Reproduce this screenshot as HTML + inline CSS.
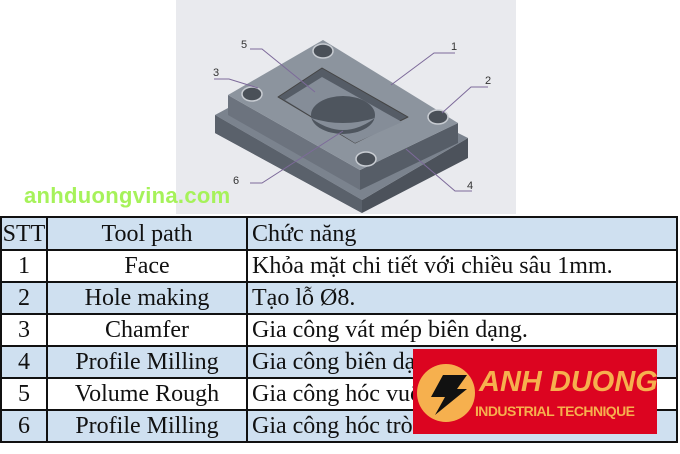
<!DOCTYPE html>
<html><head><meta charset="utf-8"><style>
body{margin:0;width:680px;height:454px;background:#fff;position:relative;overflow:hidden;font-family:"Liberation Serif",serif}
.img{position:absolute;left:176px;top:0;width:340px;height:214px;background:#e9eaee}
table{position:absolute;left:0px;top:216px;border-collapse:collapse;width:678px}
td{border:2px solid #111;height:30px;padding:0 4px;font-size:24px;color:#111;line-height:30px;white-space:nowrap;overflow:hidden}
tr.h td{height:31px}
td.c{text-align:center}
tr.b td{background:#cfe0f0}
.wm{position:absolute;left:24px;top:183px;font:bold 22px "Liberation Sans",sans-serif;color:#a6f25a;letter-spacing:0.3px}
.logo{position:absolute;left:413px;top:349px;width:244px;height:85px;background:#dc0420}
</style></head><body>
<div class="img"><svg width="340" height="214" viewBox="176 0 340 214">
<polygon points="215,115 362,200 468,138 468,158 362,213 215,133" fill="#4c525b"/>
<polygon points="215,115 362,200 362,213 215,133" fill="#5a616b"/>
<polygon points="215,115 228,108 360,183 458,133 468,138 362,200" fill="#7b838e"/>
<polygon points="228,95 360,170 360,190 228,115" fill="#6c737e"/>
<polygon points="360,170 458,123 458,143 360,190" fill="#565d67"/>
<polygon points="323,40 458,123 360,170 228,95" fill="#8c949e"/>
<polygon points="322,68 408,117 355,143 278,97" fill="#555c66" stroke="#444" stroke-width="1" stroke-linejoin="round"/>
<polygon points="322,77 402,122 355,143 285,100" fill="#858d98"/>
<ellipse cx="343" cy="115" rx="32" ry="19" fill="#4e555e"/>
<path d="M311,118 Q343,142 375,118 Q343,128 311,118Z" fill="#858d98"/>
<g fill="#4a5058" stroke="#c8ccd2" stroke-width="1.5">
<ellipse cx="323" cy="51" rx="10" ry="7"/><ellipse cx="252" cy="94" rx="10" ry="7"/>
<ellipse cx="438" cy="117" rx="10" ry="7"/><ellipse cx="366" cy="159" rx="10" ry="7"/></g>
<g stroke="#7d6a9a" stroke-width="1" fill="none">
<polyline points="250,49 262,49 315,92"/><polyline points="214,79 229,79 258,88"/>
<polyline points="455,53 434,53 391,85"/><polyline points="488,87 471,87 442,113"/>
<polyline points="250,183 262,183 343,131"/><polyline points="472,191 455,191 406,149"/>
</g>
<g font-family="Liberation Sans,sans-serif" font-size="11" fill="#333">
<text x="241" y="48">5</text><text x="213" y="76">3</text><text x="451" y="50">1</text>
<text x="485" y="84">2</text><text x="233" y="184">6</text><text x="467" y="189">4</text></g>
</svg></div>
<div class="wm">anhduongvina.com</div>
<table>
<tr class="b h"><td class="c" style="width:44px;padding:0">STT</td><td class="c" style="width:190px">Tool path</td><td>Chức năng</td></tr>
<tr><td class="c">1</td><td class="c">Face</td><td>Khỏa mặt chi tiết với chiều sâu 1mm.</td></tr>
<tr class="b"><td class="c">2</td><td class="c">Hole making</td><td>Tạo lỗ Ø8.</td></tr>
<tr><td class="c">3</td><td class="c">Chamfer</td><td>Gia công vát mép biên dạng.</td></tr>
<tr class="b"><td class="c">4</td><td class="c">Profile Milling</td><td>Gia công biên dạng</td></tr>
<tr><td class="c">5</td><td class="c">Volume Rough</td><td>Gia công hóc vuông</td></tr>
<tr class="b"><td class="c">6</td><td class="c">Profile Milling</td><td>Gia công hóc tròn</td></tr>
</table>
<div class="logo"><svg width="244" height="85">
<circle cx="33" cy="44" r="29" fill="#f6b04e"/>
<polygon points="30,26 54,26 44,40 54,40 22,66 32,48 18,48" fill="#111"/>
<text x="66" y="42" font-family="Liberation Sans,sans-serif" font-weight="bold" font-style="italic" font-size="29" fill="#f6b04e">ANH DUONG</text>
<text x="62" y="67" font-family="Liberation Sans,sans-serif" font-weight="bold" font-size="14" fill="#f6b04e" textLength="160">INDUSTRIAL TECHNIQUE</text>
</svg></div>
</body></html>
